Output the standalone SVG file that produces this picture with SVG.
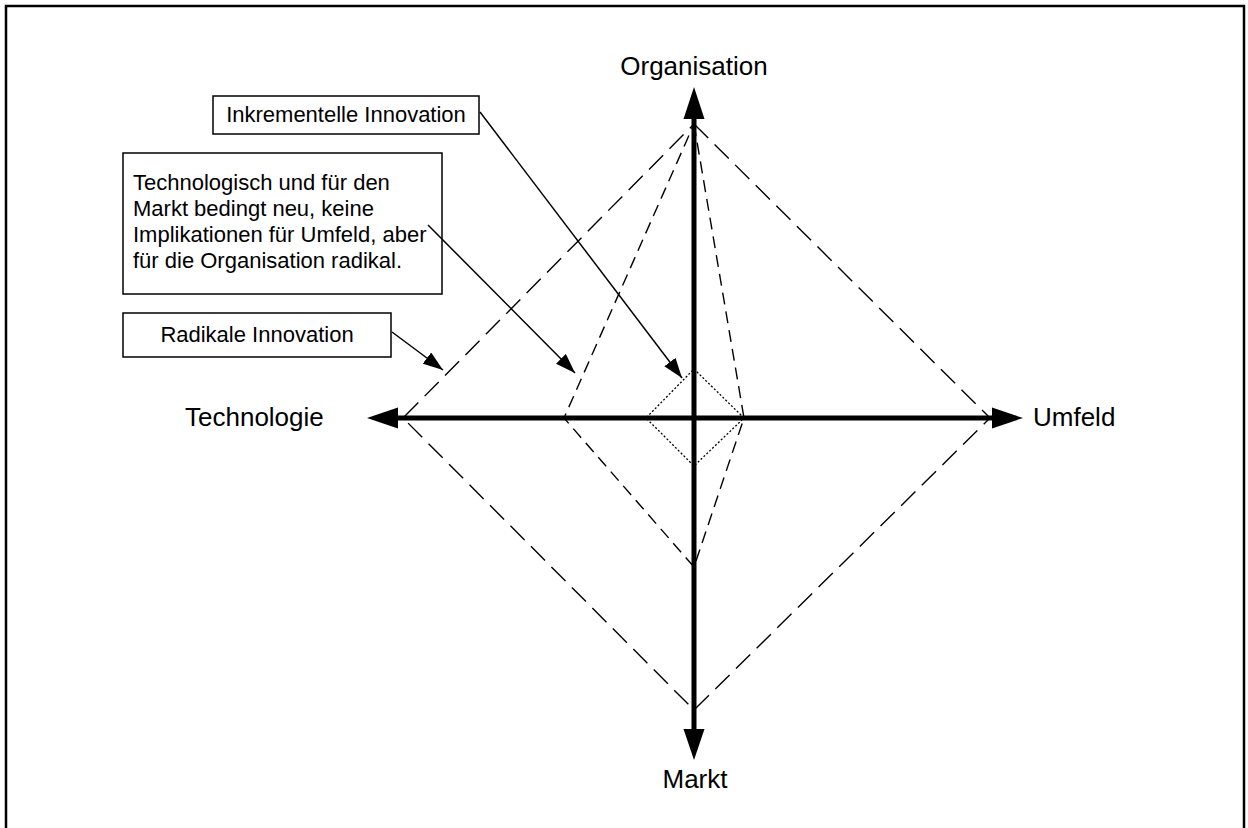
<svg xmlns="http://www.w3.org/2000/svg" width="1248" height="828" viewBox="0 0 1248 828">
  <style>
    .lbl { font-family: "Liberation Sans", Arial, sans-serif; fill: #000; }
    .axis-lbl { font-size: 26px; }
    .box-lbl { font-size: 22px; }
    .box { fill: #fff; stroke: #000; stroke-width: 1.5; }
    .axis { stroke: #000; stroke-width: 5; fill: none; }
    .big { fill: none; stroke: #000; stroke-width: 1.4; stroke-dasharray: 20 9; }
    .mid { fill: none; stroke: #000; stroke-width: 1.4; stroke-dasharray: 12 7; }
    .small { fill: none; stroke: #000; stroke-width: 1.3; stroke-dasharray: 2 2; }
    .pointer { stroke: #000; stroke-width: 1.5; fill: none; }
  </style>
  <defs>
    <marker id="head" viewBox="0 0 20 14" refX="20" refY="7" markerWidth="20" markerHeight="14" markerUnits="userSpaceOnUse" orient="auto">
      <path d="M0,0 L20,7 L0,14 Z" fill="#000"/>
    </marker>
  </defs>

  <rect width="1248" height="828" fill="#fff"/>
  <!-- outer frame, open at the bottom -->
  <path d="M6,828 V6 H1244 V828" fill="none" stroke="#000" stroke-width="2.5"/>

  <!-- diamonds -->
  <g id="radical-diamond">
    <path class="big" d="M694,124 L990,418 L694,710 L403,418 Z"/>
  </g>
  <g id="organisational-diamond">
    <path class="mid" d="M694,124 L744,418 L694,567 L564,418 Z"/>
  </g>
  <g id="incremental-diamond">
    <path class="small" d="M694,369 L744,418 L694,466 L646,418 Z"/>
  </g>

  <!-- axes -->
  <g id="axes">
    <line class="axis" x1="694" y1="116" x2="694" y2="732"/>
    <line class="axis" x1="395" y1="418" x2="995" y2="418"/>
    <path d="M694,87 L704.5,119 L683.5,119 Z" fill="#000"/>
    <path d="M694,760 L704.5,729 L683.5,729 Z" fill="#000"/>
    <path d="M367,418 L398,407.5 L398,428.5 Z" fill="#000"/>
    <path d="M1023,418 L992,407.5 L992,428.5 Z" fill="#000"/>
  </g>

  <!-- axis labels -->
  <g id="label-organisation"><text class="lbl axis-lbl" x="694" y="75" text-anchor="middle">Organisation</text></g>
  <g id="label-markt"><text class="lbl axis-lbl" x="695" y="788" text-anchor="middle">Markt</text></g>
  <g id="label-technologie"><text class="lbl axis-lbl" x="185" y="426">Technologie</text></g>
  <g id="label-umfeld"><text class="lbl axis-lbl" x="1033" y="426">Umfeld</text></g>

  <!-- callout boxes -->
  <g id="box-inkrementell">
    <rect class="box" x="213" y="96" width="266" height="38"/>
    <text class="lbl box-lbl" x="346" y="122" text-anchor="middle">Inkrementelle Innovation</text>
  </g>
  <g id="box-organisation">
    <rect class="box" x="123" y="153" width="319" height="141"/>
    <text class="lbl box-lbl" x="133" y="190">Technologisch und für den</text>
    <text class="lbl box-lbl" x="133" y="216">Markt bedingt neu, keine</text>
    <text class="lbl box-lbl" x="133" y="242">Implikationen für Umfeld, aber</text>
    <text class="lbl box-lbl" x="133" y="268">für die Organisation radikal.</text>
  </g>
  <g id="box-radikal">
    <rect class="box" x="123" y="313" width="268" height="44"/>
    <text class="lbl box-lbl" x="257" y="342" text-anchor="middle">Radikale Innovation</text>
  </g>

  <!-- pointers from boxes to diamonds -->
  <g id="connectors">
    <line class="pointer" x1="480" y1="112" x2="682" y2="378" marker-end="url(#head)"/>
    <line class="pointer" x1="428" y1="225" x2="575" y2="373" marker-end="url(#head)"/>
    <line class="pointer" x1="392" y1="332" x2="443" y2="370" marker-end="url(#head)"/>
  </g>
</svg>
